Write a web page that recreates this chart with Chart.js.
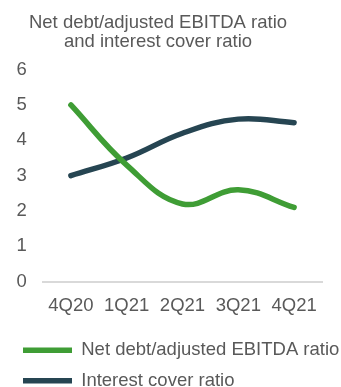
<!DOCTYPE html>
<html>
<head>
<meta charset="utf-8">
<script src="https://cdn.jsdelivr.net/npm/chart.js@4"></script>
<style>
    html, body { margin: 0; padding: 0; background: #ffffff; overflow: hidden; }
    #wrap { position: relative; width: 341px; height: 400px; }
</style>
</head>
<body>
<div id="wrap"><canvas id="chart"></canvas></div>
<script>
// Net debt / EBITDA and interest cover, quarterly
const quarters = ['4Q20', '1Q21', '2Q21', '3Q21', '4Q21'];
const netDebtEbitda = [5.0, 3.3, 2.2, 2.6, 2.1];
const interestCover = [3.0, 3.5, 4.2, 4.6, 4.5];
const yTicks = [0, 1, 2, 3, 4, 5, 6];

const colors = {
    green: '#3f9d35',
    navy: '#264552',
    text: '#595959',
    axis: '#d9d9d9'
};

Chart.defaults.font.family = "'Liberation Sans', Arial, sans-serif";
Chart.defaults.font.size = 18.5;
Chart.defaults.color = colors.text;

// nudge the title a bit left and let the long legend label run to the edge
const layoutTweaks = {
    id: 'layoutTweaks',
    afterLayout(chart) {
        if (chart.titleBlock) {
            chart.titleBlock.left -= 8.5;
            chart.titleBlock.right -= 8.5;
        }
        if (chart.legend) {
            chart.legend.right = chart.width;
            chart.legend.width = chart.legend.right - chart.legend.left;
        }
    }
};

function lineDataset(label, data, color) {
    return {
        label: label,
        data: data,
        borderColor: color,
        backgroundColor: color,
        borderWidth: 5.5,
        borderCapStyle: 'round',
        borderJoinStyle: 'round',
        pointRadius: 0,
        pointStyle: 'line',
        tension: 0.4,
        fill: false
    };
}

new Chart(document.getElementById('chart'), {
    type: 'line',
    data: {
        labels: quarters,
        datasets: [
            lineDataset('Net debt/adjusted EBITDA ratio', netDebtEbitda, colors.green),
            lineDataset('Interest cover ratio', interestCover, colors.navy)
        ]
    },
    options: {
        responsive: true,
        maintainAspectRatio: false,
        animation: false,
        layout: {
            padding: { left: 11, right: 19, top: 0, bottom: 0 }
        },
        plugins: {
            title: {
                display: true,
                text: ['Net debt/adjusted EBITDA ratio', 'and interest cover ratio'],
                color: colors.text,
                font: { size: 18.5, weight: 'normal', lineHeight: 1.05 },
                padding: { top: 13, bottom: 17.8 }
            },
            legend: {
                display: true,
                position: 'bottom',
                align: 'start',
                labels: {
                    usePointStyle: true,
                    pointStyleWidth: 49,
                    padding: 12,
                    color: colors.text,
                    font: { size: 18.5 }
                }
            },
            tooltip: { enabled: false }
        },
        scales: {
            x: {
                offset: true,
                grid: { display: false, drawTicks: false },
                border: { display: true, color: colors.axis, width: 2 },
                ticks: { padding: 13, maxRotation: 0, autoSkip: false },
                afterFit(scale) { scale.height = 47.3; }
            },
            y: {
                min: 0,
                max: 6,
                grid: { display: false, drawTicks: false },
                border: { display: false },
                afterBuildTicks(scale) {
                    scale.ticks = yTicks.map(v => ({ value: v }));
                },
                ticks: { padding: 16.3 },
                afterFit(scale) { scale.width = 32; }
            }
        }
    },
    plugins: [layoutTweaks]
});
</script>
</body>
</html>
